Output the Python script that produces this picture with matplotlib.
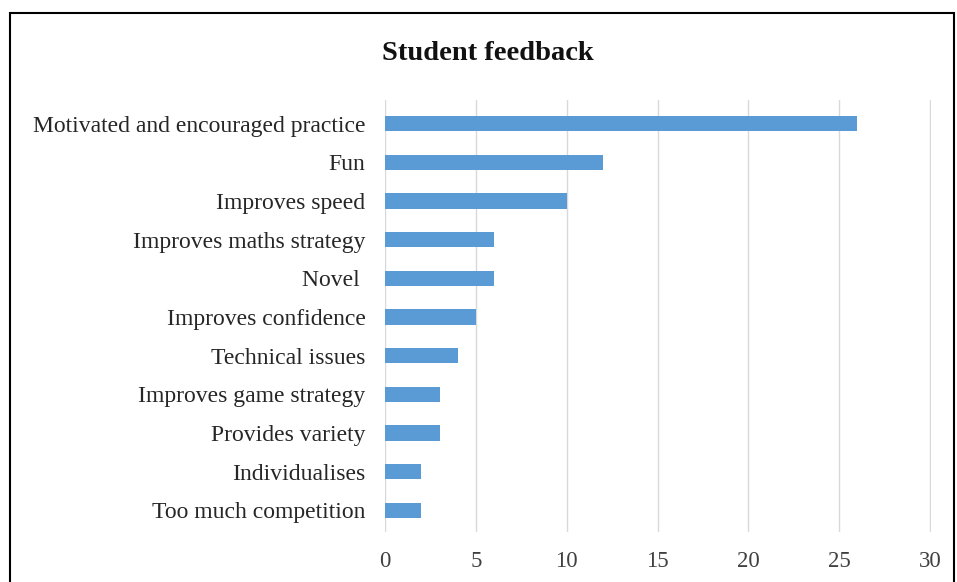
import matplotlib
matplotlib.use("Agg")
import matplotlib.pyplot as plt
from matplotlib.patches import Rectangle

categories = ["Motivated and encouraged practice", "Fun", "Improves speed",
              "Improves maths strategy", "Novel ", "Improves confidence",
              "Technical issues", "Improves game strategy", "Provides variety",
              "Individualises", "Too much competition"]
counts = [26, 12, 10, 6, 6, 5, 4, 3, 3, 2, 2]
xticks = [0, 5, 10, 15, 20, 25, 30]

plt.rcParams['font.family'] = ['Liberation Serif', 'DejaVu Serif']

fig = plt.figure(figsize=(9.57, 5.82), dpi=100)
ax = fig.add_axes([0.4023, 0.0866, 0.5705, 0.7409])

ypos = list(range(len(categories)))
ax.barh(ypos, counts, height=0.4, color='#5B9BD5', zorder=3)
ax.set_yticks(ypos)
ax.set_yticklabels(categories, fontsize=17, color='#262626')
ax.invert_yaxis()
ax.set_ylim(len(categories) - 0.45, -0.6)
ax.set_xlim(0, 30.05)
ax.set_xticks(xticks)
ax.set_xticklabels([str(t) for t in xticks], fontsize=16.5, color='#404040')
ax.xaxis.grid(True, color='#D9D9D9', lw=1.0, zorder=0)
ax.tick_params(axis='both', length=0)
ax.tick_params(axis='y', pad=14)
ax.tick_params(axis='x', pad=14)
for s in ax.spines.values():
    s.set_visible(False)

fig.text(0.510, 0.908, "Student feedback", ha='center', va='center',
         fontsize=20.5, fontweight='bold', color='#111111')

# outer frame of the pasted chart
fig.patches.append(Rectangle((10 / 957, -0.05), 944 / 957, 1.05 - 13 / 582,
                             transform=fig.transFigure, fill=False,
                             edgecolor='black', lw=1.5))

fig.savefig("out.png", dpi=100)
